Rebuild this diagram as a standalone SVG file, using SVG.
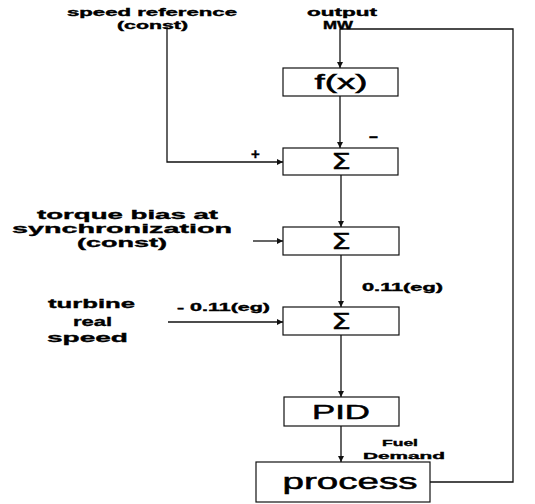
<svg xmlns="http://www.w3.org/2000/svg" width="535" height="504" viewBox="0 0 535 504">
<style>
.box{fill:#fff;stroke:#111;stroke-width:1.2}
.ln{fill:none;stroke:#111;stroke-width:1.3}
.lb{font-family:"Liberation Sans",Arial,sans-serif;font-weight:bold;fill:#000;stroke:#000;stroke-width:0.35}
.bt{font-family:"Liberation Sans",Arial,sans-serif;fill:#000;text-anchor:middle;stroke:#000;stroke-width:0.5}
.sg{font-family:"DejaVu Sans","Liberation Sans",sans-serif;fill:#000;stroke:#000;stroke-width:0.4;font-size:22px}
</style>
<defs>
<marker id="ah" viewBox="0 0 10 10" refX="10" refY="5" markerWidth="6" markerHeight="6" markerUnits="userSpaceOnUse" orient="auto">
<path d="M0,0 L10,5 L0,10 z" fill="#111"/>
</marker>
</defs>
<rect width="535" height="504" fill="#fff"/>
<g id="connectors">
<path class="ln" d="M340,29 V68" marker-end="url(#ah)"/>
<path class="ln" d="M340,96 V148" marker-end="url(#ah)"/>
<path class="ln" d="M167,27 V162 H283" marker-end="url(#ah)"/>
<path class="ln" d="M341,175 V227" marker-end="url(#ah)"/>
<path class="ln" d="M253,241 H283" marker-end="url(#ah)"/>
<path class="ln" d="M341,255 V307" marker-end="url(#ah)"/>
<path class="ln" d="M168,322 H283" marker-end="url(#ah)"/>
<path class="ln" d="M341,335 V397" marker-end="url(#ah)"/>
<path class="ln" d="M341,426 V462" marker-end="url(#ah)"/>
<path class="ln" d="M430,482 H513 V29 H340"/>
</g>
<g id="speed-ref"><text class="lb" font-size="10" x="67" y="16" textLength="170" lengthAdjust="spacingAndGlyphs">speed reference</text><text class="lb" font-size="10" x="117" y="29" textLength="71" lengthAdjust="spacingAndGlyphs">(const)</text></g>
<g id="output-mw"><text class="lb" font-size="10" x="307" y="16" textLength="70" lengthAdjust="spacingAndGlyphs">output</text><text class="lb" font-size="10" x="323" y="29" textLength="30" lengthAdjust="spacingAndGlyphs">MW</text></g>
<g id="fx"><rect class="box" x="283" y="68" width="115" height="28"/><text class="bt" font-size="20" x="341" y="89" textLength="53" lengthAdjust="spacingAndGlyphs">f(x)</text></g>
<g id="sum1"><rect class="box" x="283" y="148" width="115" height="27"/><text class="sg" x="331" y="169" textLength="20" lengthAdjust="spacingAndGlyphs">Σ</text><text class="lb" font-size="15" x="251" y="159">+</text><text class="lb" font-size="16" x="369" y="142">–</text></g>
<g id="torque-bias"><text class="lb" font-size="13" x="37" y="219" textLength="181" lengthAdjust="spacingAndGlyphs">torque bias at</text><text class="lb" font-size="13" x="12" y="233" textLength="220" lengthAdjust="spacingAndGlyphs">synchronization</text><text class="lb" font-size="13" x="77" y="247" textLength="90" lengthAdjust="spacingAndGlyphs">(const)</text></g>
<g id="sum2"><rect class="box" x="283" y="227" width="116" height="28"/><text class="sg" x="331" y="249" textLength="20" lengthAdjust="spacingAndGlyphs">Σ</text></g>
<g id="gain1"><text class="lb" font-size="10" x="362" y="291" textLength="81" lengthAdjust="spacingAndGlyphs">0.11(eg)</text></g>
<g id="turbine"><text class="lb" font-size="13" x="48" y="308" textLength="87" lengthAdjust="spacingAndGlyphs">turbine</text><text class="lb" font-size="13" x="73" y="326" textLength="39" lengthAdjust="spacingAndGlyphs">real</text><text class="lb" font-size="13" x="47" y="342" textLength="81" lengthAdjust="spacingAndGlyphs">speed</text></g>
<g id="gain2"><text class="lb" font-size="10" x="177" y="311" textLength="93" lengthAdjust="spacingAndGlyphs">- 0.11(eg)</text></g>
<g id="sum3"><rect class="box" x="283" y="307" width="116" height="28"/><text class="sg" x="331" y="329" textLength="20" lengthAdjust="spacingAndGlyphs">Σ</text></g>
<g id="pid"><rect class="box" x="284" y="397" width="115" height="29"/><text class="bt" font-size="20" x="341" y="419" textLength="58" lengthAdjust="spacingAndGlyphs">PID</text></g>
<g id="fuel"><text class="lb" font-size="9" x="382" y="446" textLength="36" lengthAdjust="spacingAndGlyphs">Fuel</text><text class="lb" font-size="9" x="363" y="459" textLength="82" lengthAdjust="spacingAndGlyphs">Demand</text></g>
<g id="process"><rect class="box" x="256" y="462" width="174" height="40"/><text class="bt" font-size="22" x="350" y="489" textLength="135" lengthAdjust="spacingAndGlyphs">process</text></g>
</svg>
